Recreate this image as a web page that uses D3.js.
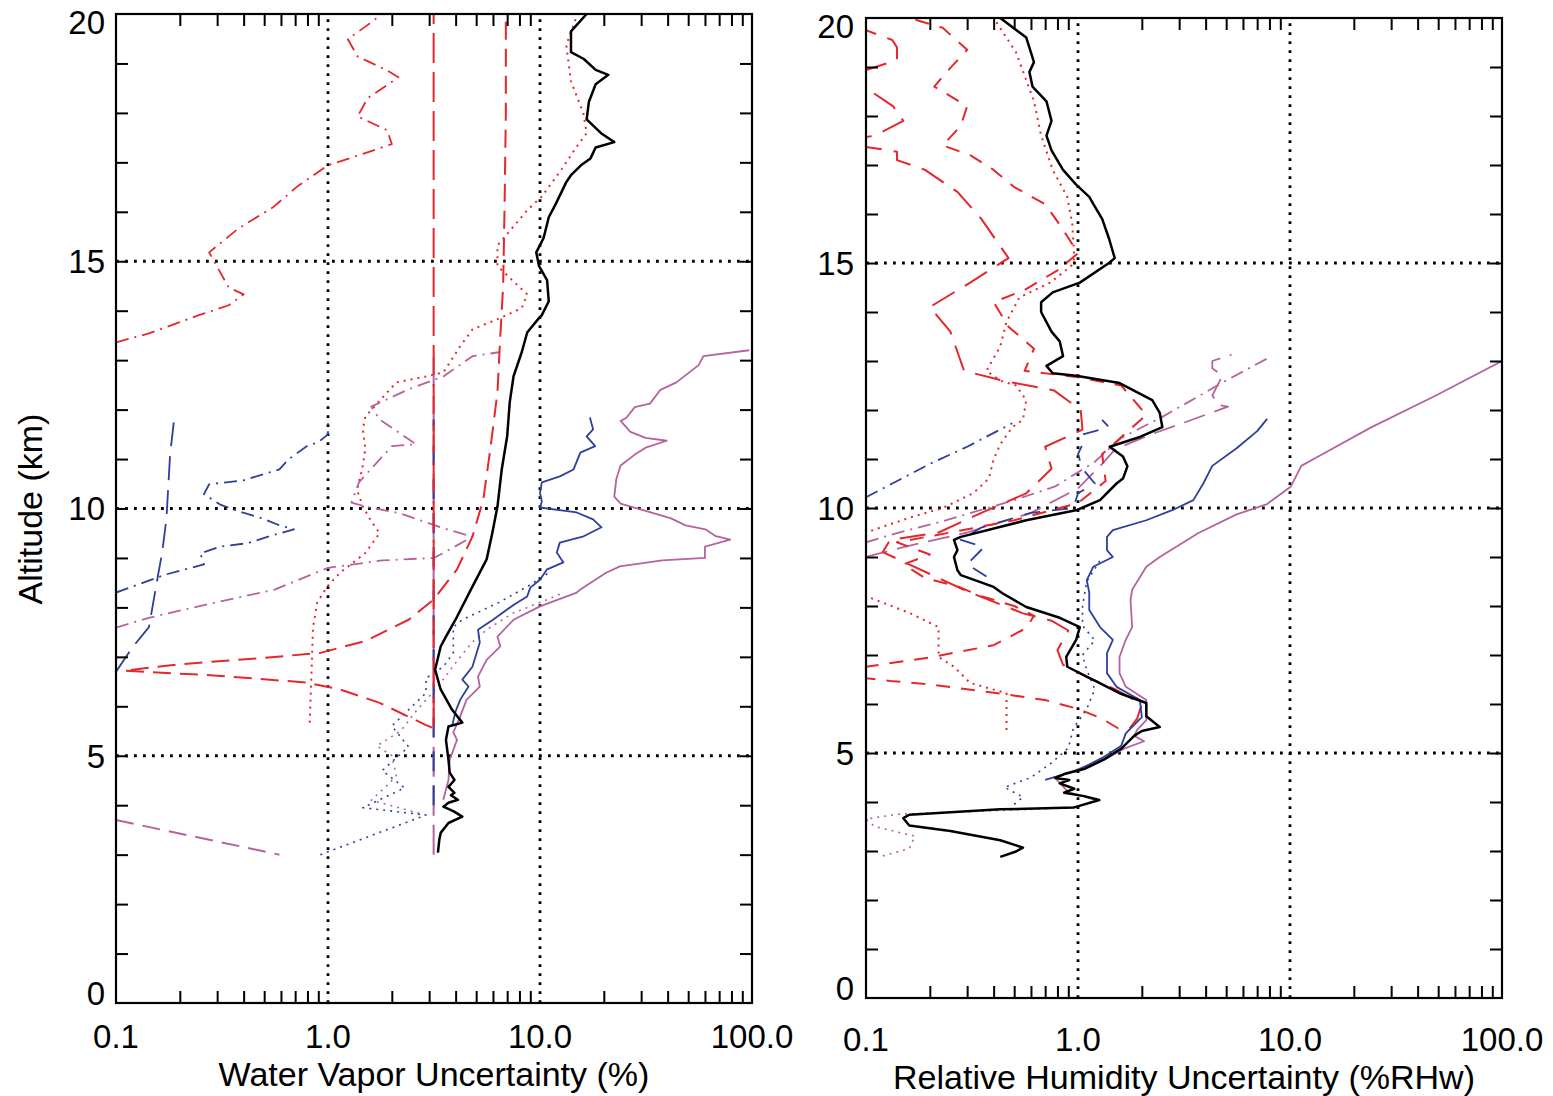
<!DOCTYPE html>
<html><head><meta charset="utf-8">
<script src="https://cdn.jsdelivr.net/npm/d3@7"></script>
<style>
body{margin:0;background:#fff}
svg{display:block}
text{font-family:"Liberation Sans",Arial,Helvetica,sans-serif;fill:#000}
</style>
</head><body>
<svg id="c" width="1553" height="1096"></svg>
<script>
// ---------- tick labels ----------
const xTickVals = [0.1, 1, 10, 100];
const xTickLabels = ["0.1", "1.0", "10.0", "100.0"];
const yTickVals = [0, 5, 10, 15, 20];
const yTickLabels = ["0", "5", "10", "15", "20"];
const gridXVals = [1, 10];
const gridYVals = [5, 10, 15];

// ---------- LEFT PANEL: water vapor uncertainty (%) [value, altitude km] ----------
const wvBlack = [[3.3,3.04],[3.35,3.3],[3.4,3.44],[3.7,3.64],[4.3,3.77],[3.9,3.88],[3.5,3.97],[3.7,4.05],[4.1,4.11],[3.8,4.2],[3.95,4.25],[3.7,4.37],[3.95,4.51],[3.75,4.66],[3.7,4.92],[3.6,5.32],[3.7,5.59],[4.3,5.67],[3.85,5.93],[3.4,6.34],[3.2,6.74],[3.4,7.21],[3.6,7.41],[4.06,7.81],[4.8,8.42],[5.6,8.97],[5.96,9.51],[6.3,10.04],[6.6,10.79],[7.0,11.46],[7.2,12.15],[7.5,12.67],[8.2,13.16],[8.7,13.56],[9.8,13.83],[10.2,13.91],[11,14.19],[10.8,14.62],[9.9,14.9],[9.6,15.18],[10.4,15.47],[11,15.89],[11.9,16.17],[13.3,16.6],[14,16.74],[15.6,16.94],[17.3,17.08],[18.3,17.3],[22.4,17.41],[19.4,17.59],[16.6,17.87],[17,18.22],[18.3,18.58],[21,18.77],[18.3,18.87],[16.1,19.09],[14,19.23],[14,19.65],[16.6,20]];
const wvBlue = [[3.85,5.6],[4.0,5.9],[4.2,6.13],[4.6,6.4],[4.3,6.54],[4.8,6.8],[5.2,7.29],[5.1,7.55],[6.0,7.75],[7.5,8.05],[8.7,8.22],[9,8.4],[10,8.56],[10.8,8.77],[12.9,8.91],[12,9.11],[12.4,9.31],[15.9,9.43],[19.5,9.62],[17.8,9.78],[14.9,9.92],[10,10.02],[10.2,10.14],[10,10.32],[10.2,10.53],[12.4,10.65],[14.4,10.79],[15.5,11.13],[18.2,11.26],[16.6,11.46],[17.8,11.6],[17.2,11.84]];
const wvPurple = [[3.5,4.11],[3.7,4.51],[3.75,4.92],[4.06,5.32],[3.9,5.47],[4.2,5.79],[4.5,6.13],[5.2,6.4],[5.1,6.6],[5.6,6.94],[6.5,7.21],[6.3,7.41],[7.5,7.75],[10,8.02],[14.9,8.3],[15.5,8.36],[20.5,8.7],[23.8,8.83],[37.7,8.95],[60,9.0],[60,9.23],[79,9.37],[67.5,9.44],[60.3,9.58],[48.6,9.66],[41.5,9.8],[31.5,9.95],[24,10.1],[22.4,10.24],[22.9,10.59],[24,10.87],[28,11.09],[31.5,11.23],[39.6,11.37],[31.5,11.43],[26.7,11.55],[24,11.77],[25.5,11.83],[28,12.05],[33,12.12],[37,12.4],[44,12.55],[56,12.9],[59,13.08],[97,13.2]];
const wvRedLong = [[3.15,5.6],[3.15,20]];
const wvBlueLong = [[3.15,4.0],[3.15,11.8]];
const wvPurpleLong = [[3.15,3.0],[3.15,13.1]];
const wvRedDash = [[3.1,5.57],[2.9,5.62],[1.75,6.07],[1.14,6.34],[0.79,6.48],[0.3,6.62],[0.109,6.72],[0.2,6.85],[0.5,6.98],[0.92,7.08],[1.5,7.32],[2.4,7.75],[3.15,8.16],[4.06,8.77],[4.8,9.43],[5.4,10.18],[5.8,11.13],[6.3,12.35],[6.5,13.5],[6.7,14.5],[6.8,16],[6.9,18],[6.9,20]];
const wvRedDashDot = [[0.1,13.36],[0.143,13.54],[0.246,13.91],[0.34,14.11],[0.4,14.33],[0.34,14.47],[0.275,15.18],[0.38,15.67],[0.55,16.09],[0.72,16.52],[1.0,16.94],[1.46,17.17],[2.0,17.37],[1.9,17.65],[1.38,17.93],[1.54,18.3],[2.15,18.72],[1.9,18.86],[1.38,19.14],[1.24,19.49],[1.54,19.78],[1.8,20]];
const wvRedDot = [[0.82,5.67],[0.84,6.94],[0.85,7.6],[0.89,8.1],[0.99,8.42],[1.14,8.7],[1.5,9.1],[1.75,9.5],[1.58,9.78],[1.46,10.04],[1.37,10.38],[1.45,10.8],[1.5,11.2],[1.46,11.6],[1.5,11.86],[2.1,12.55],[2.9,12.67],[3.5,12.75],[4.2,13.28],[4.8,13.62],[6.3,13.83],[8.2,14.05],[8.7,14.33],[6.3,14.9],[6.3,15.32],[8.7,16.03],[10.2,16.31],[12.7,16.87],[14.8,17.3],[16.6,17.59],[16,18.0],[14,18.64],[13.3,19.37],[14.8,19.92]];
const wvBlueDot = [[0.92,3.0],[2.9,3.8],[1.46,3.95],[2.3,4.35],[1.8,4.7],[2.4,5.18],[2.0,5.6],[2.4,5.93],[2.9,6.27],[2.9,6.57],[3.5,6.8],[3.9,7.08],[3.9,7.6],[4.3,7.75],[6.4,8.1],[8.7,8.42],[11,8.7]];
const wvPurpleDot = [[2.9,3.8],[1.6,4.1],[1.9,4.4],[2.1,4.6],[2.0,5.0],[1.7,5.2],[2.2,5.5],[2.6,5.9],[3.3,6.4],[4.1,6.94],[4.8,7.3],[5.6,7.55],[7.5,7.89],[10,8.1],[13,8.3]];
const wvBlueDashDot = [[0.1,8.3],[0.17,8.66],[0.26,8.87],[0.25,9.09],[0.31,9.23],[0.42,9.3],[0.53,9.44],[0.69,9.58],[0.59,9.66],[0.49,9.8],[0.38,9.94],[0.31,10.08],[0.26,10.29],[0.275,10.49],[0.4,10.57],[0.59,10.79],[0.65,10.99],[0.8,11.27],[0.9,11.34],[1.0,11.5],[1.0,11.78]];
const wvBlueLongDash = [[0.1,6.7],[0.12,7.2],[0.143,7.6],[0.158,8.66],[0.165,9.1],[0.173,9.8],[0.18,11.1],[0.188,11.8]];
const wvPurpleDashDot = [[0.1,7.59],[0.143,7.79],[0.275,8.07],[0.56,8.36],[1.0,8.8],[1.8,8.95],[3.15,9.0],[3.5,9.1],[4.8,9.43],[3.5,9.6],[2.2,9.9],[1.5,10.04],[1.29,10.12],[1.4,10.53],[1.75,10.99],[2.0,11.26],[2.6,11.3],[1.75,11.8],[1.6,12.06],[2.4,12.41],[3.5,12.67],[4.8,13.08],[6.4,13.16]];
const wvPurpleLowDash = [[0.1,3.7],[0.59,3.0]];

// ---------- RIGHT PANEL: relative humidity uncertainty (%RHw) ----------
const rhBlack = [[0.43,2.88],[0.51,2.99],[0.55,3.07],[0.43,3.22],[0.25,3.41],[0.16,3.52],[0.15,3.67],[0.16,3.74],[0.43,3.85],[0.96,3.89],[1.26,4.04],[1.07,4.12],[0.86,4.19],[0.96,4.27],[0.82,4.38],[0.91,4.45],[0.78,4.49],[0.86,4.57],[1.08,4.68],[1.33,4.87],[1.6,5.09],[1.84,5.35],[2.0,5.45],[2.43,5.53],[2.1,5.75],[2.1,6.02],[1.57,6.22],[1.18,6.49],[0.89,6.76],[0.88,6.96],[0.98,7.31],[1.02,7.57],[0.82,7.76],[0.57,7.98],[0.44,8.26],[0.4,8.39],[0.28,8.63],[0.27,8.73],[0.26,9.0],[0.27,9.14],[0.26,9.35],[0.28,9.41],[0.57,9.75],[0.99,9.96],[1.27,10.16],[1.52,10.5],[1.63,10.6],[1.71,10.85],[1.63,11.05],[1.41,11.25],[1.96,11.45],[2.5,11.65],[2.43,11.94],[2.24,12.2],[1.57,12.55],[0.98,12.7],[0.76,12.75],[0.71,12.9],[0.85,13.1],[0.82,13.4],[0.75,13.6],[0.67,14.0],[0.67,14.2],[0.76,14.4],[1.02,14.6],[1.4,15.0],[1.49,15.1],[1.4,15.5],[1.3,15.9],[1.22,16.1],[1.13,16.35],[0.98,16.6],[0.85,16.9],[0.75,17.3],[0.71,17.6],[0.75,17.9],[0.71,18.3],[0.61,18.6],[0.59,18.9],[0.62,19.1],[0.57,19.6],[0.43,20]];
const rhPurple = [[1.2,4.05],[0.9,4.2],[0.78,4.49],[1.07,4.72],[1.33,4.87],[1.65,5.09],[2.05,5.24],[1.84,5.35],[1.9,5.47],[2.1,5.67],[2.1,6.08],[1.68,6.35],[1.57,6.63],[1.57,6.96],[1.68,7.31],[1.8,7.57],[1.77,8.12],[1.8,8.33],[2.1,8.8],[2.43,9.0],[3.7,9.49],[5.6,9.87],[7.8,10.08],[10.1,10.44],[11.3,10.86],[14,11.08],[24,11.64],[48,12.28],[100,13.0]];
const rhBlue = [[0.7,4.45],[1.0,4.65],[1.3,4.9],[1.6,5.15],[1.68,5.4],[2.0,5.73],[1.96,6.08],[1.52,6.35],[1.37,6.63],[1.37,7.04],[1.46,7.31],[1.27,7.57],[1.13,7.92],[1.13,8.27],[1.1,8.53],[1.18,8.8],[1.46,9.0],[1.37,9.14],[1.37,9.41],[1.46,9.55],[2.1,9.75],[2.8,9.96],[3.5,10.16],[3.9,10.5],[4.3,10.86],[5.6,11.22],[7.0,11.57],[7.8,11.82]];
const rhBlueDashDot = [[0.1,10.22],[0.2,10.9],[0.3,11.25],[0.49,11.73]];
const rhPurpleDashDot = [[0.1,9.3],[0.13,9.45],[0.23,9.73],[0.5,10.16],[0.78,10.44],[1.19,10.93],[1.6,11.43],[2.5,11.86],[4.8,12.56],[8.2,13.1]];
const rhPurpleLongDash = [[0.1,9.0],[0.15,9.2],[0.3,9.5],[0.6,9.9],[1.0,10.4],[1.3,10.9],[1.5,11.2],[2.2,11.5],[3.2,11.75],[5.1,12.07],[4.6,12.1],[4.3,12.3],[4.8,12.7],[4.3,12.85],[4.3,13.0],[5.3,13.13]];
const rhBlueLongDash = [[0.37,8.6],[0.3,8.85],[0.36,9.2],[0.28,9.35],[0.35,9.6],[0.6,9.9],[0.95,10.0],[1.0,10.3],[1.2,10.5],[1.05,10.8],[1.0,11.1],[1.05,11.3],[1.05,11.5],[1.4,11.65],[1.3,11.8]];
const rhRedLong = [[1.75,5.5],[1.9,5.7],[2.0,6.0],[1.5,6.3],[1.1,6.55],[0.85,6.8],[0.8,7.1],[0.9,7.5],[0.75,7.7],[0.55,7.85],[0.3,8.3],[0.12,9.1],[0.13,9.35],[0.22,9.5],[0.35,9.9],[0.57,10.3],[0.75,10.8],[0.7,11.25],[1.05,11.6],[1.03,12.0],[0.77,12.4],[0.44,12.6],[0.29,12.8],[0.25,13.6],[0.2,14.1],[0.31,14.6],[0.47,15.1],[0.35,15.9],[0.27,16.45],[0.19,16.9],[0.14,17.1],[0.14,17.27],[0.1,17.37],[0.08,17.5],[0.11,17.6],[0.15,17.9],[0.134,18.2],[0.1,18.57],[0.08,18.75],[0.1,18.94],[0.14,19.14],[0.14,19.4],[0.133,19.55],[0.1,19.75],[0.08,20]];
const rhRedDash = [[1.55,5.5],[1.3,5.7],[1.0,5.9],[0.7,6.08],[0.45,6.2],[0.2,6.4],[0.13,6.47],[0.07,6.6],[0.1,6.76],[0.2,6.95],[0.4,7.2],[0.57,7.55],[0.62,7.8],[0.5,8.0],[0.35,8.2],[0.27,8.4],[0.19,8.57],[0.15,8.85],[0.2,9.05],[0.14,9.3],[0.25,9.5],[0.5,9.75],[1.0,10.1],[1.35,10.55],[1.3,11.1],[2.1,11.9],[1.6,12.5],[1.0,12.67],[0.56,12.8],[0.62,13.25],[0.47,13.7],[0.4,14.2],[0.56,14.45],[0.8,14.85],[1.0,15.2],[0.83,15.75],[0.7,16.2],[0.5,16.55],[0.4,16.9],[0.31,17.2],[0.23,17.4],[0.28,17.8],[0.3,18.2],[0.21,18.6],[0.24,18.9],[0.3,19.35],[0.23,19.8],[0.16,20]];
const rhRedDot = [[0.46,5.47],[0.46,6.22],[0.31,6.43],[0.26,6.76],[0.22,6.96],[0.22,7.3],[0.22,7.57],[0.16,7.86],[0.1,8.2],[0.08,8.8],[0.09,9.4],[0.108,9.55],[0.16,9.8],[0.23,10.0],[0.32,10.3],[0.38,10.6],[0.4,11.0],[0.43,11.3],[0.49,11.65],[0.55,11.8],[0.57,12.2],[0.51,12.5],[0.43,12.6],[0.37,12.8],[0.43,13.3],[0.46,13.8],[0.53,14.3],[0.74,14.6],[0.94,14.96],[0.96,15.1],[0.94,15.8],[0.89,16.35],[0.76,16.9],[0.67,17.6],[0.62,18.3],[0.51,19.3],[0.42,19.86],[0.4,20]];
const rhBlueDot = [[0.5,3.95],[0.55,4.1],[0.45,4.3],[0.6,4.5],[0.75,4.8],[0.9,5.1],[0.95,5.5],[1.1,5.9],[1.2,6.3],[1.1,6.7],[1.05,7.0],[1.2,7.3],[1.05,7.6],[1.05,8.0],[1.1,8.5],[1.3,9.0]];
const rhPurpleDot = [[0.12,2.9],[0.16,3.05],[0.17,3.3],[0.11,3.5],[0.1,3.65],[0.14,3.75],[0.6,3.85],[1.0,3.9]];

// ---------- styles ----------
const RED = "#e5262d", BLUE = "#2e3f98", PURPLE = "#b4639f", BLACK = "#000";
const DOT = "2,5", DASH = "18,9", LONG = "30,9", DASHDOT = "13,6,2,6";

const leftSeries = [
  [wvBlueDot, BLUE, DOT, 1.6], [wvPurpleDot, PURPLE, DOT, 1.6], [wvRedDot, RED, DOT, 2],
  [wvPurpleLowDash, PURPLE, DASH, 2], [wvBlueLongDash, BLUE, "24,10", 1.8],
  [wvBlueDashDot, BLUE, DASHDOT, 1.8], [wvPurpleDashDot, PURPLE, DASHDOT, 1.8],
  [wvRedDashDot, RED, DASHDOT, 1.8], [wvRedDash, RED, DASH, 2],
  [wvPurpleLong, PURPLE, LONG, 2], [wvBlueLong, BLUE, "20,14", 2], [wvRedLong, RED, LONG, 2],
  [wvPurple, PURPLE, null, 1.8], [wvBlue, BLUE, null, 1.8], [wvBlack, BLACK, null, 2.5]
];
const rightSeries = [
  [rhBlueDot, BLUE, DOT, 1.6], [rhPurpleDot, PURPLE, DOT, 1.6], [rhRedDot, RED, DOT, 2],
  [rhBlueDashDot, BLUE, DASHDOT, 1.8], [rhPurpleDashDot, PURPLE, DASHDOT, 1.8],
  [rhPurpleLongDash, PURPLE, "22,10", 1.8], [rhBlueLongDash, BLUE, "16,12", 1.8],
  [rhRedLong, RED, "26,12", 2], [rhRedDash, RED, "14,11", 2],
  [rhPurple, PURPLE, null, 1.8], [rhBlue, BLUE, null, 1.8], [rhBlack, BLACK, null, 2.5]
];

const svg = d3.select("#c");
const defs = svg.append("defs");

function panel(id, x0, x1, yB, yT, series, title, yLabX, tickBase, titleBase) {
  const x = d3.scaleLog().domain([0.1, 100]).range([x0, x1]);
  const y = d3.scaleLinear().domain([0, 20]).range([yB, yT]);
  defs.append("clipPath").attr("id", id).append("rect")
    .attr("x", x0).attr("y", yT).attr("width", x1 - x0).attr("height", yB - yT);
  const g = svg.append("g");

  // grid
  const grid = g.append("g").attr("stroke", "#000").attr("stroke-width", 2.8).attr("stroke-dasharray", "2.8,6.2");
  gridXVals.forEach(v => grid.append("line").attr("x1", x(v)).attr("x2", x(v)).attr("y1", yB).attr("y2", yT));
  gridYVals.forEach(v => grid.append("line").attr("x1", x0).attr("x2", x1).attr("y1", y(v)).attr("y2", y(v)));

  // series
  const line = d3.line().x(d => x(d[0])).y(d => y(d[1]));
  const lg = g.append("g").attr("clip-path", `url(#${id})`);
  series.forEach(([data, color, dash, w]) => {
    lg.append("path").attr("d", line(data)).attr("fill", "none")
      .attr("stroke", color).attr("stroke-width", w)
      .attr("stroke-dasharray", dash).attr("stroke-linejoin", "round");
  });

  // minor ticks
  const minor = [];
  [0.1, 1, 10].forEach(d => { for (let k = 2; k <= 9; k++) minor.push(+(k * d).toPrecision(3)); });
  const kmTicks = d3.range(1, 20);
  const styleAxis = a => { a.select(".domain").remove(); a.selectAll("line").attr("stroke", "#000").attr("stroke-width", 2); };
  g.append("g").attr("transform", `translate(0,${yB})`)
    .call(d3.axisBottom(x).tickValues(minor).tickSize(-12).tickFormat("")).call(styleAxis);
  g.append("g").attr("transform", `translate(0,${yT})`)
    .call(d3.axisTop(x).tickValues(minor).tickSize(-12).tickFormat("")).call(styleAxis);
  g.append("g").attr("transform", `translate(${x0},0)`)
    .call(d3.axisLeft(y).tickValues(kmTicks).tickSize(-12).tickFormat("")).call(styleAxis);
  g.append("g").attr("transform", `translate(${x1},0)`)
    .call(d3.axisRight(y).tickValues(kmTicks).tickSize(-12).tickFormat("")).call(styleAxis);

  // frame
  g.append("rect").attr("x", x0).attr("y", yT).attr("width", x1 - x0).attr("height", yB - yT)
    .attr("fill", "none").attr("stroke", "#000").attr("stroke-width", 2.2);

  // tick labels (end labels kept inside the frame height, like the original)
  xTickVals.forEach((v, i) => g.append("text").attr("x", x(v)).attr("y", tickBase)
    .attr("text-anchor", "middle").attr("font-size", 33).text(xTickLabels[i]));
  yTickVals.forEach((v, i) => {
    const shift = v === 0 ? -10 : (v === 20 ? 8 : 0);
    g.append("text").attr("x", yLabX).attr("y", y(v) + shift).attr("dy", "0.36em")
      .attr("text-anchor", "end").attr("font-size", 33).text(yTickLabels[i]);
  });
  g.append("text").attr("x", (x0 + x1) / 2).attr("y", titleBase).attr("text-anchor", "middle")
    .attr("font-size", 34).text(title);
}

panel("clipL", 116, 752, 1003, 14, leftSeries, "Water Vapor Uncertainty (%)", 105, 1048, 1086);
panel("clipR", 866, 1502, 998, 18, rightSeries, "Relative Humidity Uncertainty (%RHw)", 854, 1051, 1089);

svg.append("text").attr("transform", "translate(42,509) rotate(-90)").attr("text-anchor", "middle")
  .attr("font-size", 34).text("Altitude (km)");
</script>
</body></html>
